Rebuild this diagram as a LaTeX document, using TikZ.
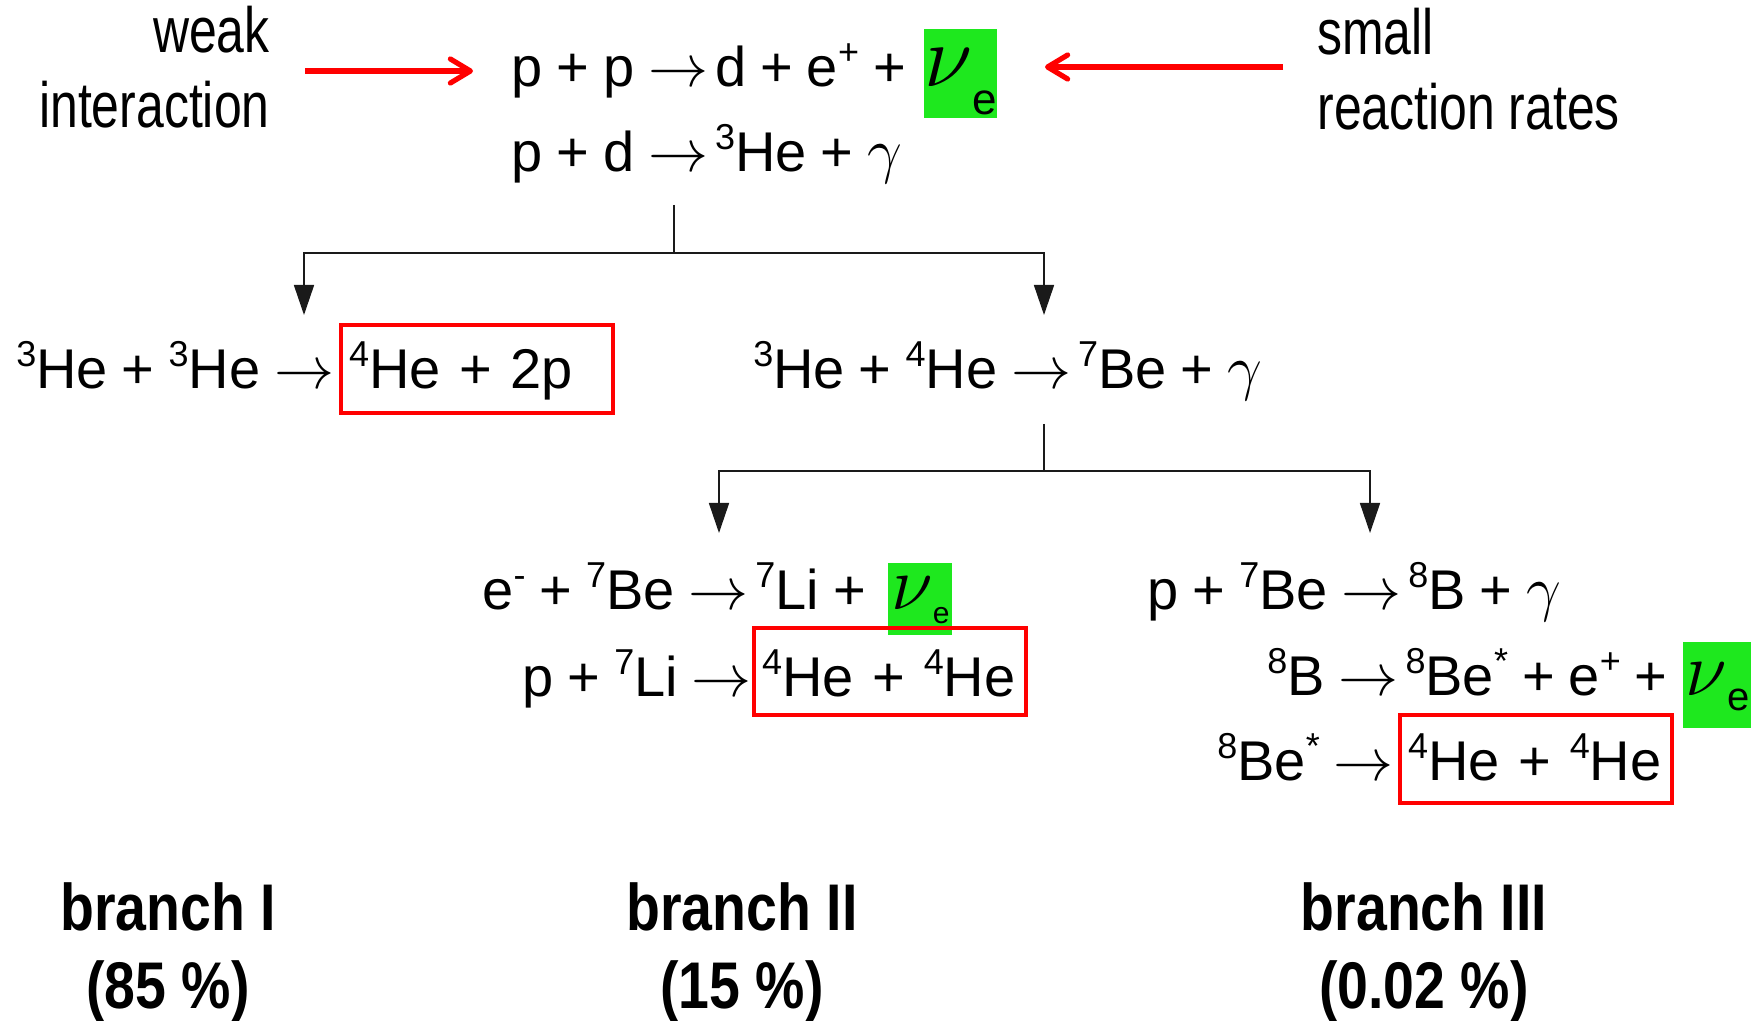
\documentclass[tikz,border=0pt]{standalone}
\usepackage{fix-cm}
\usepackage{graphicx}
\usepackage{fontspec}
\setmainfont{Liberation Sans}
\newfontfamily\condensed[FakeStretch=0.78]{Liberation Sans}
\newfontfamily\heavynarrow[FakeStretch=0.84]{Liberation Sans Bold}
\usepackage{tikz}
\usetikzlibrary{arrows.meta}
\definecolor{markred}{HTML}{FF0000}
\definecolor{nugreen}{HTML}{1EE81E}
\definecolor{linkgray}{HTML}{1A1A1A}
\newcommand{\eqfont}{\fontsize{28}{32}\selectfont\spaceskip=0.25em\relax}
\newcommand{\sups}[1]{\raisebox{11pt}{\fontsize{18}{18}\selectfont #1}}
\newcommand{\nuc}[2]{\sups{#1}#2}
\newcommand{\ra}{{\fontsize{30}{30}\selectfont$\rightarrow$}\hspace{0.12em}}
\newcommand{\gam}{{\fontsize{31}{31}\selectfont$\gamma$}}
\newcommand{\nue}[3]{{\fontsize{#1}{#1}\selectfont$\nu$}\raisebox{-#3}{\fontsize{#2}{#2}\selectfont e}}

\begin{document}
\begin{tikzpicture}[x=0.5pt, y=-0.5pt,
  eqn/.style={inner sep=0pt, anchor=base west, font=\eqfont},
  prod/.style={eqn, draw=markred, line width=2.2pt, inner xsep=4pt, text width=128pt, align=left, text height=32pt, text depth=12pt},
  nubox/.style={inner sep=0pt, anchor=base west, fill=nugreen, minimum width=34pt, font=\fontsize{22}{26}\selectfont},
  note/.style={inner sep=0pt, font=\condensed\fontsize{32}{37.5}\selectfont},
  branch/.style={inner sep=0pt, anchor=base, align=center, font=\heavynarrow\fontsize{33}{39}\selectfont},
  hint/.style={draw=markred, line width=2.6pt, -{Straight Barb[length=10pt, width=12pt, round]}},
  link/.style={draw=linkgray, line width=0.8pt},
  drop/.style={link, -{Triangle[length=15pt, width=10pt]}}]
\useasboundingbox (0,0) rectangle (1762,1021);

% side remarks (base = last line)
\node[note, anchor=base east, align=right] (weak) at (270,128) {weak\\interaction};
\node[note, anchor=base west, align=left] (slow) at (1317,130) {small\\reaction rates};
\coordinate (wkA) at (305,71);
\coordinate (wkB) at (473,71);
\coordinate (slA) at (1283,67);
\coordinate (slB) at (1045,67);
\draw[hint] (wkA) -- (wkB);
\draw[hint] (slA) -- (slB);

% pp start
\node[eqn] (ppd) at (511,87) {p + p \ra d + e\sups{+} +};
\node[nubox, text height=29pt, text depth=15.5pt] (nuA) at (924,87) {\nue{44pt}{22pt}{14pt}};
\node[eqn] (pdhe) at (511,172) {p + d \ra\nuc{3}{He} + \gam};

% first split
\coordinate (stemA) at (674,205);
\coordinate (forkA) at (674,253);
\coordinate (tipI) at (304,315);
\coordinate (tipII) at (1044,315);
\draw[link] (stemA) -- (forkA);
\foreach \t in {tipI,tipII}
  \draw[drop] (forkA) -| (\t);

\node[eqn] (hehe) at (16,389) {\nuc{3}{He} + \nuc{3}{He} \ra};
\node[prod] (outI) at (339,389) {\nuc{4}{He} + 2p};
\node[eqn] (heHe) at (753,389) {\nuc{3}{He} + \nuc{4}{He} \ra \nuc{7}{Be} + \gam};

% second split
\coordinate (stemB) at (1044,424);
\coordinate (forkB) at (1044,471);
\coordinate (tipIIa) at (719,533);
\coordinate (tipIII) at (1370,533);
\draw[link] (stemB) -- (forkB);
\foreach \t in {tipIIa,tipIII}
  \draw[drop] (forkB) -| (\t);

% branch II
\node[eqn] (ebe) at (482,610) {e\sups{-} + \nuc{7}{Be} \ra \nuc{7}{Li} +};
\node[nubox, minimum width=32pt, text height=23.5pt, text depth=12.5pt] (nuB) at (888,610) {\nue{38pt}{15pt}{6.5pt}};
\node[eqn] (pli) at (522,696) {p + \nuc{7}{Li} \ra};
\node[prod, text height=34pt, text depth=9.5pt] (outII) at (752,696) {\nuc{4}{He} + \nuc{4}{He}};

% branch III
\node[eqn] (pbe) at (1147,610) {p + \nuc{7}{Be} \ra \nuc{8}{B} + \gam};
\node[eqn] (bbe) at (1267,695) {\nuc{8}{B} \ra \nuc{8}{Be}\sups{*} + e\sups{+} +};
\node[nubox, text height=26.5pt, text depth=16.5pt] (nuC) at (1683,695) {\nue{38pt}{20pt}{7.5pt}};
\node[eqn] (bestar) at (1217,780) {\nuc{8}{Be}\sups{*} \ra};
\node[prod, text height=32.5pt, text depth=11.5pt] (outIII) at (1398,780) {\nuc{4}{He} + \nuc{4}{He}};

% branch ratios (base = last line)
\node[branch] (brI) at (168,1008) {branch I\\(85 \%)};
\node[branch] (brII) at (742,1008) {branch II\\(15 \%)};
\node[branch] (brIII) at (1424,1008) {branch III\\(0.02 \%)};
\end{tikzpicture}
\end{document}
